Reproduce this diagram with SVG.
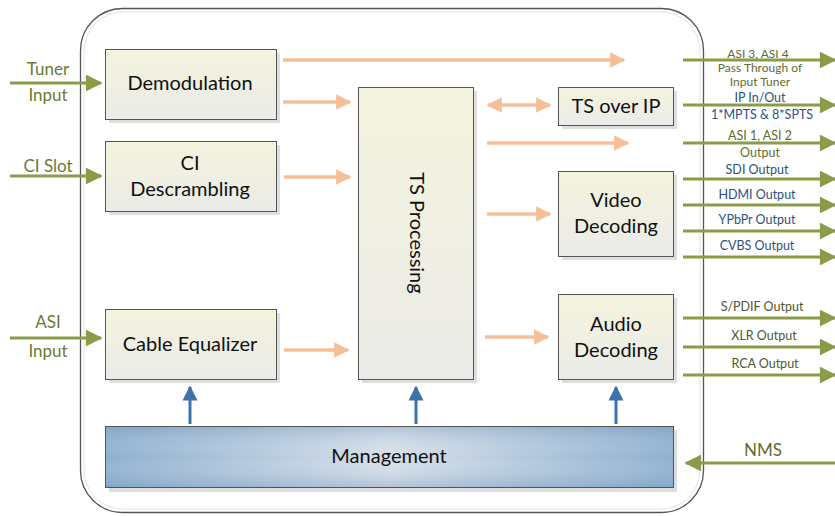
<svg xmlns="http://www.w3.org/2000/svg" width="835" height="516" viewBox="0 0 835 516">
<defs>
<linearGradient id="nodeFill" x1="0" y1="0" x2="0" y2="1">
<stop offset="0" stop-color="#f4f3de"/>
<stop offset="1" stop-color="#ebebe8"/>
</linearGradient>
<linearGradient id="mgmtFill" x1="0" y1="0" x2="1" y2="0">
<stop offset="0" stop-color="#8eb0d0"/>
<stop offset="0.5" stop-color="#d6dfe9"/>
<stop offset="1" stop-color="#8eb0d0"/>
</linearGradient>
<linearGradient id="mgmtShade" x1="0" y1="0" x2="0" y2="1">
<stop offset="0" stop-color="#6f93b8" stop-opacity="0.35"/>
<stop offset="0.5" stop-color="#ffffff" stop-opacity="0"/>
<stop offset="1" stop-color="#6f93b8" stop-opacity="0.35"/>
</linearGradient>
<marker id="ga" viewBox="0 0 10 10" refX="9" refY="5" markerWidth="6" markerHeight="5.6" markerUnits="strokeWidth" orient="auto">
<path d="M0,0 L10,5 L0,10 Z" fill="#8a9c48"/>
</marker>
<marker id="oa" viewBox="0 0 10 10" refX="9" refY="5" markerWidth="4.4" markerHeight="4.6" markerUnits="strokeWidth" orient="auto-start-reverse">
<path d="M0,0 L10,5 L0,10 Z" fill="#f6bf98"/>
</marker>
<marker id="ba" viewBox="0 0 10 10" refX="9" refY="5" markerWidth="5" markerHeight="6" markerUnits="strokeWidth" orient="auto">
<path d="M0,0 L10,5 L0,10 Z" fill="#3c73ab"/>
</marker>
</defs>
<style>
.node rect.box { fill: url(#nodeFill); stroke: #555; stroke-width: 1; }
.shadow { fill: #dedede; }
.nt { font-family: Lato, "Liberation Sans", sans-serif; font-size: 20px; fill: #111; text-anchor: middle; }
.g { stroke: #8a9c48; stroke-width: 3; fill: none; marker-end: url(#ga); }
.o { stroke: #f6bf98; stroke-width: 3.5; fill: none; marker-end: url(#oa); }
.b { stroke: #3c73ab; stroke-width: 3; fill: none; marker-end: url(#ba); }
.lbl { font-family: Lato, "Liberation Sans", sans-serif; font-size: 17px; fill: #6b7a34; text-anchor: middle; }
.rl { font-family: Lato, "Liberation Sans", sans-serif; font-size: 12.5px; text-anchor: middle; }
.sm { font-size: 12px; }
.ol { fill: #5f6b2f; }
.bl { fill: #2d4f80; }
.dl { fill: #4f5632; }
</style>

<g id="enclosure">
<rect x="80.5" y="8.5" width="623" height="504" rx="42" fill="#fff" stroke="#555" stroke-width="1.3"/>
<rect x="84" y="12" width="616" height="497" rx="39" fill="none" stroke="#e4e4e4" stroke-width="1"/>
</g>

<g id="demodulation" class="node">
<rect class="shadow" x="109" y="53" width="171" height="70"/>
<rect class="box" x="105.5" y="49.5" width="171" height="70"/>
<text class="nt" x="190" y="90">Demodulation</text>
</g>
<g id="ci-descrambling" class="node">
<rect class="shadow" x="109" y="145" width="171" height="70"/>
<rect class="box" x="105.5" y="141.5" width="171" height="70"/>
<text class="nt" x="190" y="170">CI</text>
<text class="nt" x="190" y="196">Descrambling</text>
</g>
<g id="cable-equalizer" class="node">
<rect class="shadow" x="109" y="313" width="171" height="70"/>
<rect class="box" x="105.5" y="309.5" width="171" height="70"/>
<text class="nt" x="190" y="351">Cable Equalizer</text>
</g>
<g id="ts-processing" class="node">
<rect class="shadow" x="362" y="91" width="115" height="292"/>
<rect class="box" x="358.5" y="87.5" width="115" height="292"/>
<text class="nt" transform="translate(410,233) rotate(90)" x="0" y="0">TS Processing</text>
</g>
<g id="ts-over-ip" class="node">
<rect class="shadow" x="562" y="91" width="115" height="38"/>
<rect class="box" x="558.5" y="87.5" width="115" height="38"/>
<text class="nt" x="616" y="113">TS over IP</text>
</g>
<g id="video-decoding" class="node">
<rect class="shadow" x="562" y="175" width="115" height="85"/>
<rect class="box" x="558.5" y="171.5" width="115" height="85"/>
<text class="nt" x="616" y="207">Video</text>
<text class="nt" x="616" y="233">Decoding</text>
</g>
<g id="audio-decoding" class="node">
<rect class="shadow" x="562" y="298" width="115" height="85"/>
<rect class="box" x="558.5" y="294.5" width="115" height="85"/>
<text class="nt" x="616" y="331">Audio</text>
<text class="nt" x="616" y="357">Decoding</text>
</g>
<g id="management" class="node">
<rect class="shadow" x="109" y="430" width="568" height="62"/>
<rect x="105.5" y="426.5" width="568" height="61" fill="url(#mgmtFill)" stroke="#555" stroke-width="1"/>
<rect x="106" y="427" width="567" height="60" fill="url(#mgmtShade)"/>
<text class="nt" x="389" y="463">Management</text>
</g>

<g id="connectors">
<line class="g" x1="10" y1="83" x2="101" y2="83"/>
<line class="g" x1="10" y1="176" x2="101" y2="176"/>
<line class="g" x1="10" y1="338" x2="101" y2="338"/>
<line class="o" x1="283" y1="60" x2="624" y2="60"/>
<line class="o" x1="283" y1="102" x2="350" y2="102"/>
<line class="o" x1="284" y1="177" x2="350" y2="177"/>
<line class="o" x1="284" y1="350" x2="348" y2="350"/>
<line class="o" x1="488" y1="105" x2="550" y2="105" marker-start="url(#oa)"/>
<line class="o" x1="487" y1="143" x2="628" y2="143"/>
<line class="o" x1="487" y1="214" x2="550" y2="214"/>
<line class="o" x1="485" y1="337" x2="548" y2="337"/>
<line class="b" x1="190" y1="424" x2="190" y2="387"/>
<line class="b" x1="416" y1="424" x2="416" y2="387"/>
<line class="b" x1="616" y1="424" x2="616" y2="387"/>
<line class="g" x1="683" y1="60" x2="835" y2="60"/>
<line class="g" x1="683" y1="105" x2="835" y2="105"/>
<line class="g" x1="683" y1="143" x2="835" y2="143"/>
<line class="g" x1="683" y1="179" x2="835" y2="179"/>
<line class="g" x1="683" y1="205" x2="835" y2="205"/>
<line class="g" x1="683" y1="231" x2="835" y2="231"/>
<line class="g" x1="683" y1="257" x2="835" y2="257"/>
<line class="g" x1="683" y1="318" x2="835" y2="318"/>
<line class="g" x1="683" y1="347" x2="835" y2="347"/>
<line class="g" x1="683" y1="375" x2="835" y2="375"/>
<line class="g" x1="835" y1="463" x2="686" y2="463"/>
</g>

<g id="labels">
<text class="lbl" x="48" y="75">Tuner</text>
<text class="lbl" x="48" y="101">Input</text>
<text class="lbl" x="48" y="172">CI Slot</text>
<text class="lbl" x="48" y="328">ASI</text>
<text class="lbl" x="48" y="357">Input</text>
<text class="lbl" x="763" y="456" style="fill:#5f6b2f">NMS</text>
<text class="rl sm ol" x="758" y="58">ASI 3, ASI 4</text>
<text class="rl sm ol" x="760" y="72">Pass Through of</text>
<text class="rl sm ol" x="760" y="86">Input Tuner</text>
<text class="rl bl" x="760" y="102">IP In/Out</text>
<text class="rl bl" x="762" y="119">1*MPTS &amp; 8*SPTS</text>
<text class="rl ol" x="760" y="140">ASI 1, ASI 2</text>
<text class="rl ol" x="760" y="157">Output</text>
<text class="rl bl" x="757" y="174">SDI Output</text>
<text class="rl bl" x="757" y="199">HDMI Output</text>
<text class="rl bl" x="757" y="224">YPbPr Output</text>
<text class="rl bl" x="757" y="250">CVBS Output</text>
<text class="rl dl" x="762" y="311">S/PDIF Output</text>
<text class="rl dl" x="764" y="340">XLR Output</text>
<text class="rl dl" x="765" y="368">RCA Output</text>
</g>
</svg>
